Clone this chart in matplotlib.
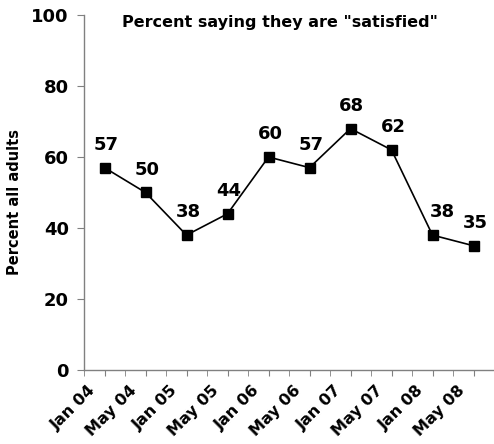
import numpy as np
import matplotlib.pyplot as plt
import matplotlib.transforms as mtransforms

months = ["Jan 04", "May 04", "Jan 05", "May 05", "Jan 06",
          "May 06", "Jan 07", "May 07", "Jan 08", "May 08"]
satisfied = [57, 50, 38, 44, 60, 57, 68, 62, 38, 35]

plt.rcParams['font.family'] = ['DejaVu Sans']
plt.rcParams['font.weight'] = 'bold'

fig = plt.figure(figsize=(4.94, 4.44), dpi=100)
ax = fig.add_axes([84 / 494, 74 / 444, 410 / 494, 355 / 444])

x = np.arange(len(months))
ax.plot(x, satisfied, color='black', lw=1.2, marker='s', ms=7.8,
        mfc='black', mec='black', clip_on=False)

# label each point; the Jan 08 one is nudged right off the line
nudge = {8: 7}
for i, v in enumerate(satisfied):
    ax.annotate(str(v), (x[i], v), xytext=(nudge.get(i, 1), 10),
                textcoords='offset points', ha='center', va='bottom',
                fontsize=13, fontweight='bold')

ax.set_xlim(-0.46, 9.44)
ax.set_ylim(0, 100)
ax.set_yticks(range(0, 101, 20))
ax.set_xticks(x)
ax.set_xticklabels([])
ax.set_xticks(np.arange(-0.5, 10, 1.0), minor=True)
ax.tick_params(axis='x', which='both', length=4, color='#808080',
               direction='out')
ax.tick_params(axis='y', length=5, color='#808080', labelsize=13, pad=6)
for lab in ax.get_yticklabels():
    lab.set_fontweight('bold')

# month labels, slanted and hung below-left of each tick
lab_tr = ax.get_xaxis_transform() + mtransforms.ScaledTranslation(
    -11 / 100, -18 / 100, fig.dpi_scale_trans)
for xi, m in zip(x, months):
    ax.text(xi, 0, m, transform=lab_tr, rotation=45, rotation_mode='anchor',
            ha='right', va='center', fontsize=11.5, fontweight='bold')

for s in ['top', 'right']:
    ax.spines[s].set_visible(False)
for s in ['left', 'bottom']:
    ax.spines[s].set_color('#808080')
    ax.spines[s].set_linewidth(1.0)

ax.set_ylabel('Percent all adults', fontsize=10.5, fontweight='bold')
ax.yaxis.set_label_coords(-0.151, 0.473)
fig.text(280 / 494, 1 - 22 / 444, 'Percent saying they are "satisfied"',
         ha='center', va='center', fontsize=11.5, fontweight='bold')

fig.savefig('out.png', dpi=100)
